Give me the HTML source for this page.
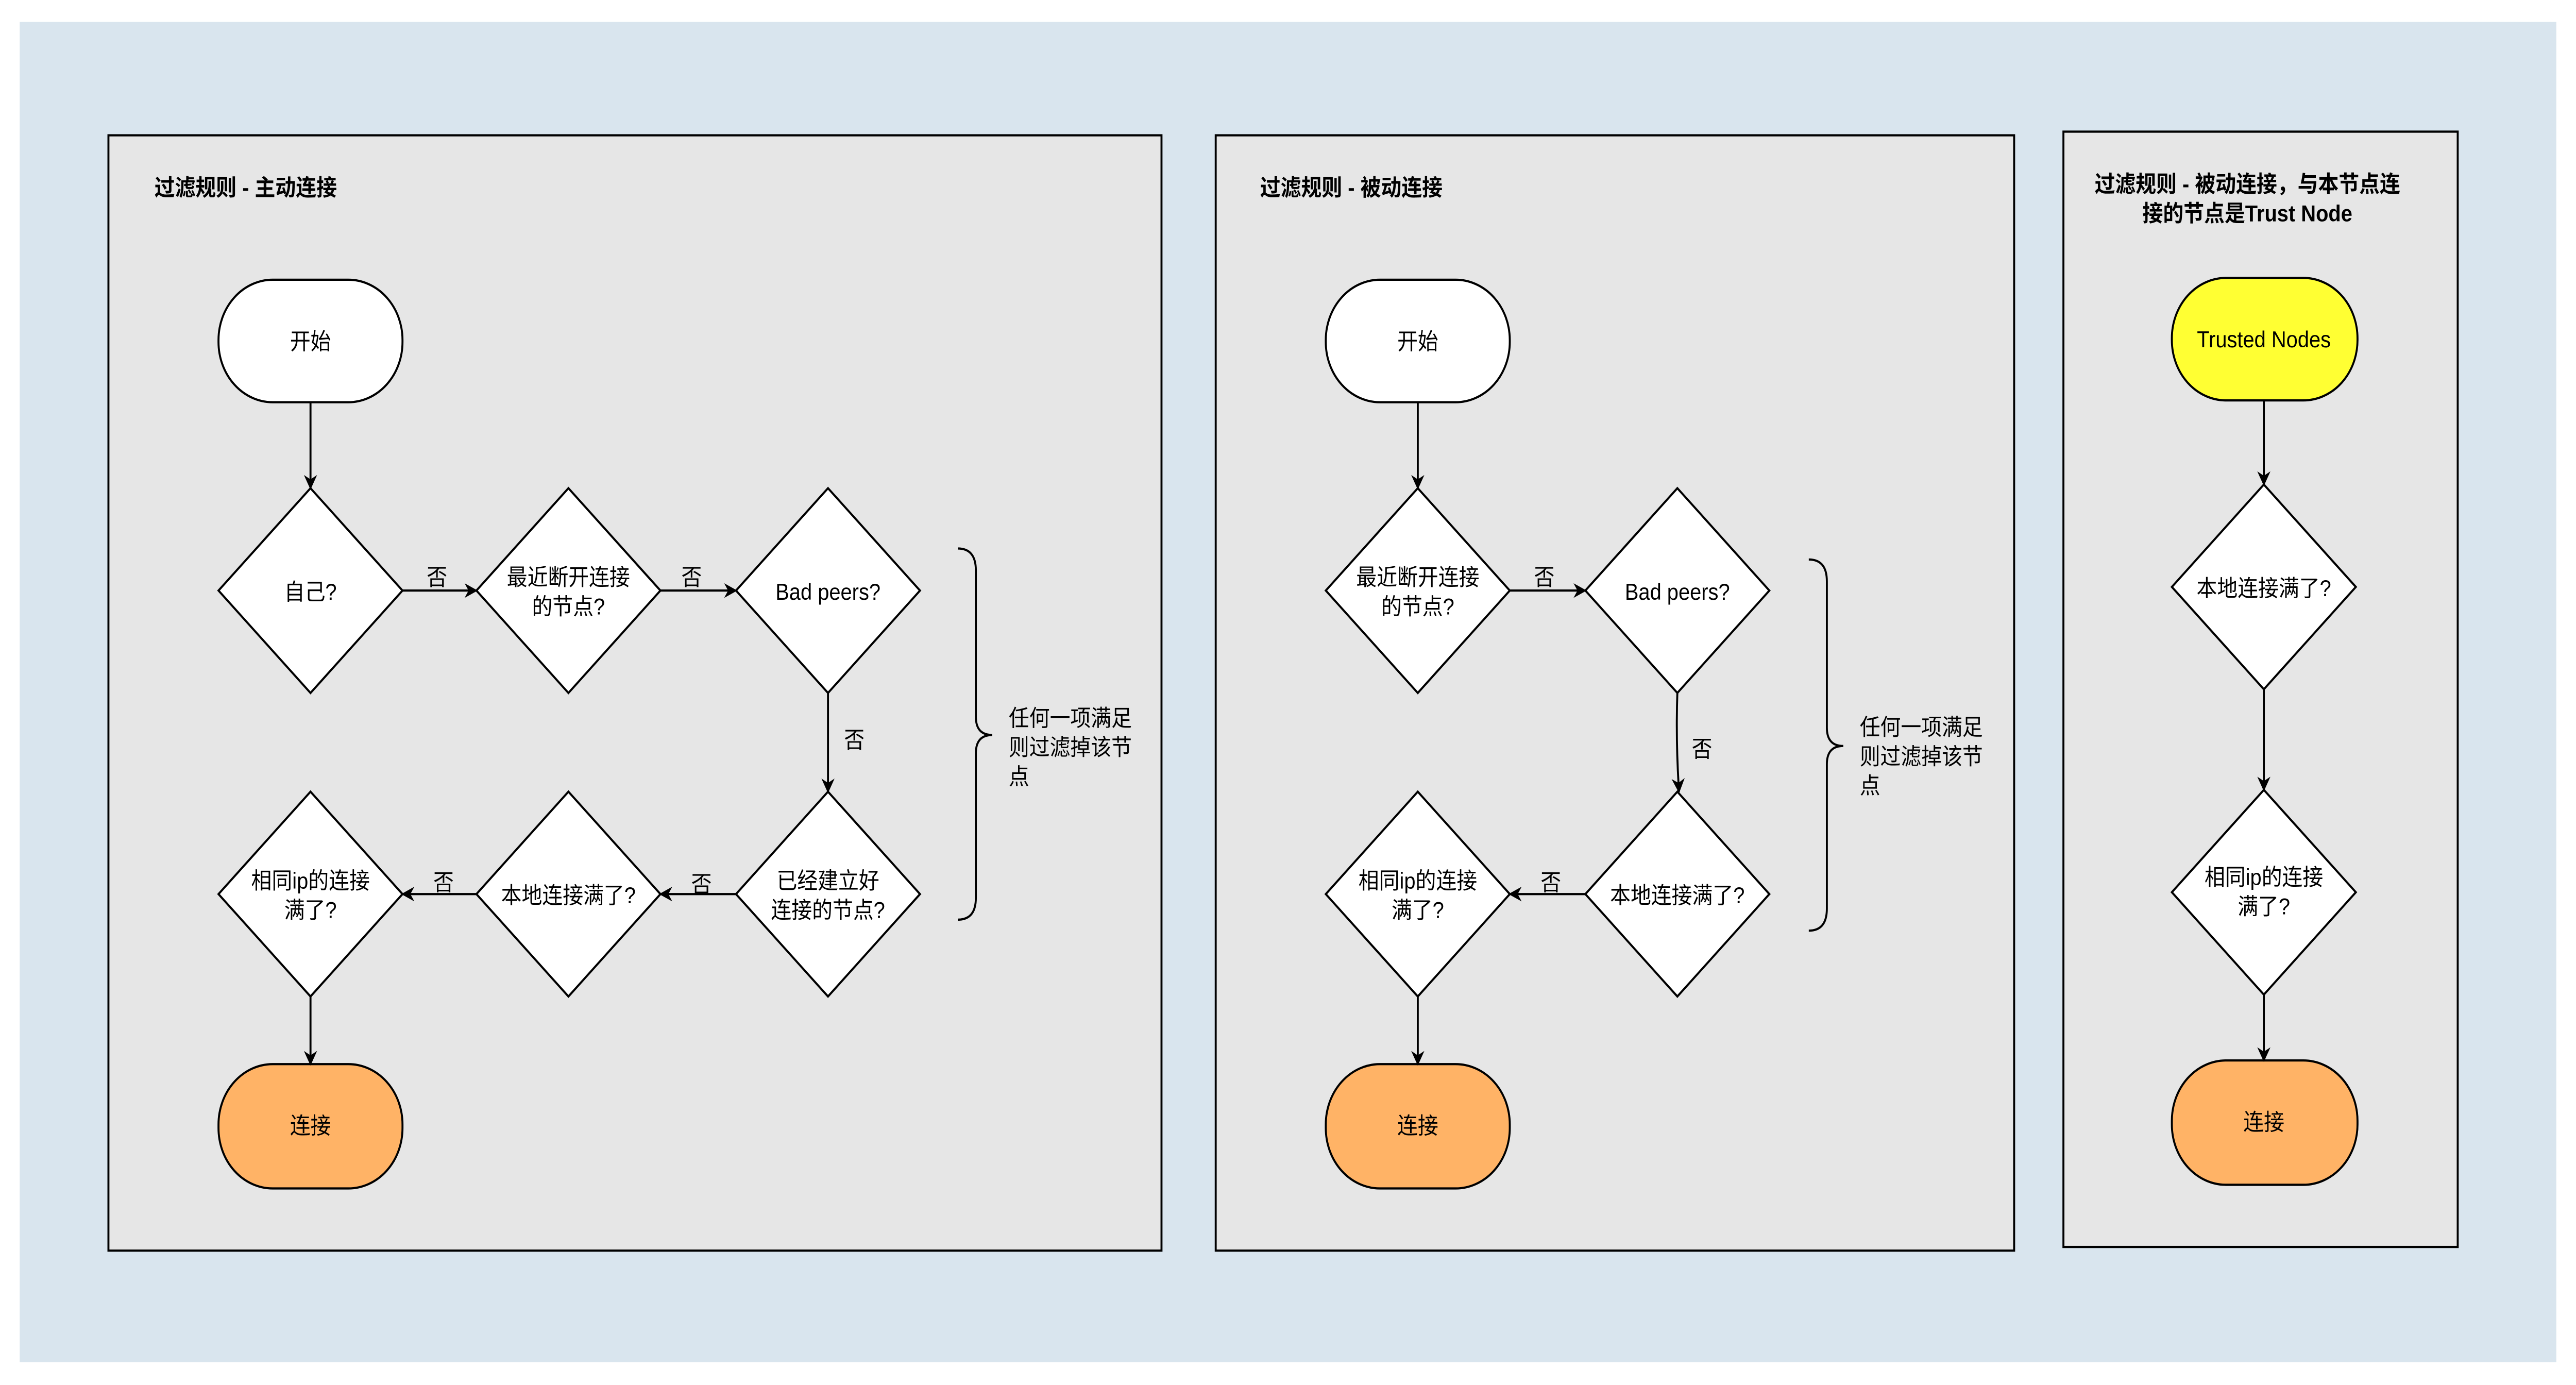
<!DOCTYPE html>
<html><head><meta charset="utf-8"><style>
html,body{margin:0;padding:0;background:#fff;overflow:hidden;width:100%;height:100%;}
svg{display:block;position:fixed;left:0;top:0;width:100vw;height:100vh;}
text{font-family:"Liberation Sans","Noto Sans CJK SC",sans-serif;fill:#000;}
</style></head><body>
<svg viewBox="0 0 1568 757.5" preserveAspectRatio="none" xmlns="http://www.w3.org/2000/svg">
<defs>
<marker id="a" viewBox="0 0 10 10" refX="9" refY="5" markerWidth="8" markerHeight="8" markerUnits="userSpaceOnUse" orient="auto">
<path d="M0,0 L10,5 L0,10 L3,5 Z" fill="#000"/>
</marker>
</defs>
<rect x="0" y="0" width="1568" height="757.5" fill="#fff"/>
<rect x="12" y="12" width="1544" height="733" fill="#d9e5ee"/>
<g stroke="#000" stroke-width="1.2" fill="#e6e6e6">
<rect x="66" y="74" width="641" height="610"/>
<rect x="740" y="74" width="486" height="610"/>
<rect x="1256" y="72" width="240" height="610"/>
</g>
<g font-size="12.5" font-weight="bold">
<text x="94" y="107">过滤规则 - 主动连接</text>
<text x="767" y="107">过滤规则 - 被动连接</text>
<text x="1368" y="105" text-anchor="middle">过滤规则 - 被动连接，与本节点连</text>
<text x="1368" y="121" text-anchor="middle">接的节点是Trust Node</text>
</g>
<g stroke="#000" stroke-width="1.2">
<rect x="133" y="153" width="112" height="67" rx="33" fill="#fff"/>
<rect x="133" y="582" width="112" height="68" rx="33" fill="#ffb366"/>
<path d="M189,267 L245,323 L189,379 L133,323 Z" fill="#fff"/>
<path d="M346,267 L402,323 L346,379 L290,323 Z" fill="#fff"/>
<path d="M504,267 L560,323 L504,379 L448,323 Z" fill="#fff"/>
<path d="M189,433 L245,489 L189,545 L133,489 Z" fill="#fff"/>
<path d="M346,433 L402,489 L346,545 L290,489 Z" fill="#fff"/>
<path d="M504,433 L560,489 L504,545 L448,489 Z" fill="#fff"/>
<rect x="807" y="153" width="112" height="67" rx="33" fill="#fff"/>
<rect x="807" y="582" width="112" height="68" rx="33" fill="#ffb366"/>
<path d="M863,267 L919,323 L863,379 L807,323 Z" fill="#fff"/>
<path d="M1021,267 L1077,323 L1021,379 L965,323 Z" fill="#fff"/>
<path d="M863,433 L919,489 L863,545 L807,489 Z" fill="#fff"/>
<path d="M1021,433 L1077,489 L1021,545 L965,489 Z" fill="#fff"/>
<rect x="1322" y="152" width="113" height="67" rx="33" fill="#ffff33"/>
<rect x="1322" y="580" width="113" height="68" rx="33" fill="#ffb366"/>
<path d="M1378,265 L1434,321 L1378,377 L1322,321 Z" fill="#fff"/>
<path d="M1378,432 L1434,488 L1378,544 L1322,488 Z" fill="#fff"/>
</g>
<g stroke="#000" stroke-width="1.2" fill="none" marker-end="url(#a)">
<path d="M189,220 L189,267"/>
<path d="M245,323 L290,323"/>
<path d="M402,323 L448,323"/>
<path d="M504,379 L504,433"/>
<path d="M448,489 L402,489"/>
<path d="M290,489 L245,489"/>
<path d="M189,545 L189,582"/>
<path d="M863,220 L863,267"/>
<path d="M919,323 L965,323"/>
<path d="M1021,379 Q1020,405 1022,433"/>
<path d="M965,489 L919,489"/>
<path d="M863,545 L863,582"/>
<path d="M1378,219 L1378,265"/>
<path d="M1378,377 L1378,432"/>
<path d="M1378,544 L1378,580"/>
</g>
<g stroke="#000" stroke-width="1.2" fill="none">
<path d="M583,300 Q594,300 594,312 L594,392 Q594,402 604,402 Q594,402 594,412 L594,491 Q594,503 583,503"/>
<path d="M1101,306 Q1112,306 1112,318 L1112,398 Q1112,408 1122,408 Q1112,408 1112,418 L1112,497 Q1112,509 1101,509"/>
</g>
<g font-size="12.5" text-anchor="middle">
<text x="189" y="191">开始</text>
<text x="189" y="620">连接</text>
<text x="189" y="328">自己?</text>
<text x="346" y="320">最近断开连接</text>
<text x="346" y="336">的节点?</text>
<text x="504" y="328">Bad peers?</text>
<text x="189" y="486">相同ip的连接</text>
<text x="189" y="502">满了?</text>
<text x="346" y="494">本地连接满了?</text>
<text x="504" y="486">已经建立好</text>
<text x="504" y="502">连接的节点?</text>
<text x="863" y="191">开始</text>
<text x="863" y="620">连接</text>
<text x="863" y="320">最近断开连接</text>
<text x="863" y="336">的节点?</text>
<text x="1021" y="328">Bad peers?</text>
<text x="863" y="486">相同ip的连接</text>
<text x="863" y="502">满了?</text>
<text x="1021" y="494">本地连接满了?</text>
<text x="1378" y="190">Trusted Nodes</text>
<text x="1378" y="326">本地连接满了?</text>
<text x="1378" y="484">相同ip的连接</text>
<text x="1378" y="500">满了?</text>
<text x="1378" y="618">连接</text>
<text x="266" y="320">否</text>
<text x="421" y="320">否</text>
<text x="520" y="409">否</text>
<text x="427" y="488">否</text>
<text x="270" y="487">否</text>
<text x="940" y="320">否</text>
<text x="1036" y="414">否</text>
<text x="944" y="487">否</text>
</g>
<g font-size="12.5">
<text x="614" y="397">任何一项满足</text>
<text x="614" y="413">则过滤掉该节</text>
<text x="614" y="429">点</text>
<text x="1132" y="402">任何一项满足</text>
<text x="1132" y="418">则过滤掉该节</text>
<text x="1132" y="434">点</text>
</g>
</svg>
</body></html>
